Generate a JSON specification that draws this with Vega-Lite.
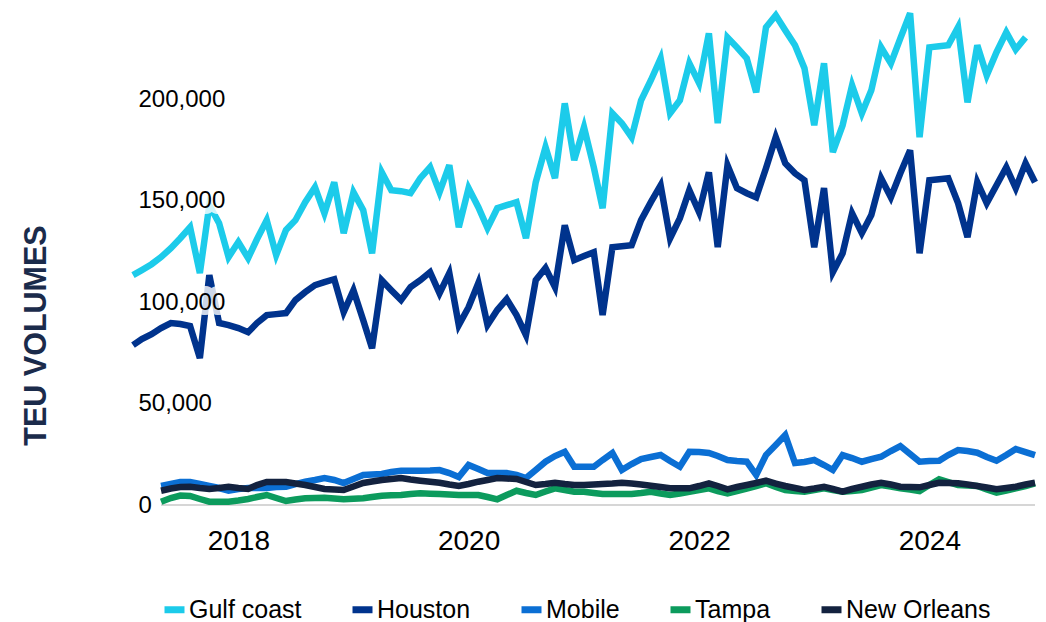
{
"$schema": "https://vega.github.io/schema/vega-lite/v6.json",
"width": 902, "height": 497,
"autosize": {"type": "none"},
"padding": {"left": 133, "top": 8, "right": 11, "bottom": 117},
"background": "white",
"config": {"view": {"stroke": null}, "font": "Liberation Sans"},
"datasets": {
"ticks": [{"teu": 0}, {"teu": 50000}, {"teu": 100000}, {"teu": 150000}, {"teu": 200000}],
"ports": [
{"month":"2017-02-01","port":"Gulf coast","teu":113300},{"month":"2017-03-01","port":"Gulf coast","teu":115800},{"month":"2017-04-01","port":"Gulf coast","teu":118700},{"month":"2017-05-01","port":"Gulf coast","teu":122200},{"month":"2017-06-01","port":"Gulf coast","teu":126600},{"month":"2017-07-01","port":"Gulf coast","teu":131500},{"month":"2017-08-01","port":"Gulf coast","teu":136900},{"month":"2017-09-01","port":"Gulf coast","teu":114300},{"month":"2017-10-01","port":"Gulf coast","teu":147800},{"month":"2017-11-01","port":"Gulf coast","teu":138900},{"month":"2017-12-01","port":"Gulf coast","teu":122200},
{"month":"2018-01-01","port":"Gulf coast","teu":129600},{"month":"2018-02-01","port":"Gulf coast","teu":121700},{"month":"2018-03-01","port":"Gulf coast","teu":131000},{"month":"2018-04-01","port":"Gulf coast","teu":140400},{"month":"2018-05-01","port":"Gulf coast","teu":123200},{"month":"2018-06-01","port":"Gulf coast","teu":135500},{"month":"2018-07-01","port":"Gulf coast","teu":140400},{"month":"2018-08-01","port":"Gulf coast","teu":149300},{"month":"2018-09-01","port":"Gulf coast","teu":156700},{"month":"2018-10-01","port":"Gulf coast","teu":143800},{"month":"2018-11-01","port":"Gulf coast","teu":159100},{"month":"2018-12-01","port":"Gulf coast","teu":134000},
{"month":"2019-01-01","port":"Gulf coast","teu":154200},{"month":"2019-02-01","port":"Gulf coast","teu":145300},{"month":"2019-03-01","port":"Gulf coast","teu":124100},{"month":"2019-04-01","port":"Gulf coast","teu":164000},{"month":"2019-05-01","port":"Gulf coast","teu":155200},{"month":"2019-06-01","port":"Gulf coast","teu":154700},{"month":"2019-07-01","port":"Gulf coast","teu":153700},{"month":"2019-08-01","port":"Gulf coast","teu":161100},{"month":"2019-09-01","port":"Gulf coast","teu":166500},{"month":"2019-10-01","port":"Gulf coast","teu":154200},{"month":"2019-11-01","port":"Gulf coast","teu":167500},{"month":"2019-12-01","port":"Gulf coast","teu":136900},
{"month":"2020-01-01","port":"Gulf coast","teu":156200},{"month":"2020-02-01","port":"Gulf coast","teu":146800},{"month":"2020-03-01","port":"Gulf coast","teu":136500},{"month":"2020-04-01","port":"Gulf coast","teu":146300},{"month":"2020-05-01","port":"Gulf coast","teu":147800},{"month":"2020-06-01","port":"Gulf coast","teu":149300},{"month":"2020-07-01","port":"Gulf coast","teu":131500},{"month":"2020-08-01","port":"Gulf coast","teu":159100},{"month":"2020-09-01","port":"Gulf coast","teu":176400},{"month":"2020-10-01","port":"Gulf coast","teu":161100},{"month":"2020-11-01","port":"Gulf coast","teu":198000},{"month":"2020-12-01","port":"Gulf coast","teu":170000},
{"month":"2021-01-01","port":"Gulf coast","teu":186200},{"month":"2021-02-01","port":"Gulf coast","teu":166500},{"month":"2021-03-01","port":"Gulf coast","teu":146300},{"month":"2021-04-01","port":"Gulf coast","teu":193100},{"month":"2021-05-01","port":"Gulf coast","teu":188200},{"month":"2021-06-01","port":"Gulf coast","teu":181300},{"month":"2021-07-01","port":"Gulf coast","teu":199500},{"month":"2021-08-01","port":"Gulf coast","teu":209400},{"month":"2021-09-01","port":"Gulf coast","teu":220200},{"month":"2021-10-01","port":"Gulf coast","teu":193100},{"month":"2021-11-01","port":"Gulf coast","teu":199500},{"month":"2021-12-01","port":"Gulf coast","teu":217700},
{"month":"2022-01-01","port":"Gulf coast","teu":207900},{"month":"2022-02-01","port":"Gulf coast","teu":232500},{"month":"2022-03-01","port":"Gulf coast","teu":188200},{"month":"2022-04-01","port":"Gulf coast","teu":230500},{"month":"2022-05-01","port":"Gulf coast","teu":225600},{"month":"2022-06-01","port":"Gulf coast","teu":220200},{"month":"2022-07-01","port":"Gulf coast","teu":203400},{"month":"2022-08-01","port":"Gulf coast","teu":235500},{"month":"2022-09-01","port":"Gulf coast","teu":241400},{"month":"2022-10-01","port":"Gulf coast","teu":234000},{"month":"2022-11-01","port":"Gulf coast","teu":226600},{"month":"2022-12-01","port":"Gulf coast","teu":215300},
{"month":"2023-01-01","port":"Gulf coast","teu":187200},{"month":"2023-02-01","port":"Gulf coast","teu":217700},{"month":"2023-03-01","port":"Gulf coast","teu":173900},{"month":"2023-04-01","port":"Gulf coast","teu":187200},{"month":"2023-05-01","port":"Gulf coast","teu":206900},{"month":"2023-06-01","port":"Gulf coast","teu":193100},{"month":"2023-07-01","port":"Gulf coast","teu":204400},{"month":"2023-08-01","port":"Gulf coast","teu":225600},{"month":"2023-09-01","port":"Gulf coast","teu":217700},{"month":"2023-10-01","port":"Gulf coast","teu":230000},{"month":"2023-11-01","port":"Gulf coast","teu":242400},{"month":"2023-12-01","port":"Gulf coast","teu":181300},
{"month":"2024-01-01","port":"Gulf coast","teu":225600},{"month":"2024-02-01","port":"Gulf coast","teu":226100},{"month":"2024-03-01","port":"Gulf coast","teu":226600},{"month":"2024-04-01","port":"Gulf coast","teu":235500},{"month":"2024-05-01","port":"Gulf coast","teu":198500},{"month":"2024-06-01","port":"Gulf coast","teu":226600},{"month":"2024-07-01","port":"Gulf coast","teu":211800},{"month":"2024-08-01","port":"Gulf coast","teu":223200},{"month":"2024-09-01","port":"Gulf coast","teu":233000},{"month":"2024-10-01","port":"Gulf coast","teu":224600},{"month":"2024-11-01","port":"Gulf coast","teu":230500},

{"month":"2017-02-01","port":"Houston","teu":78800},{"month":"2017-03-01","port":"Houston","teu":81800},{"month":"2017-04-01","port":"Houston","teu":84200},{"month":"2017-05-01","port":"Houston","teu":87200},{"month":"2017-06-01","port":"Houston","teu":89700},{"month":"2017-07-01","port":"Houston","teu":89200},{"month":"2017-08-01","port":"Houston","teu":88200},{"month":"2017-09-01","port":"Houston","teu":72400},{"month":"2017-10-01","port":"Houston","teu":113300},{"month":"2017-11-01","port":"Houston","teu":89700},{"month":"2017-12-01","port":"Houston","teu":88700},
{"month":"2018-01-01","port":"Houston","teu":87200},{"month":"2018-02-01","port":"Houston","teu":85200},{"month":"2018-03-01","port":"Houston","teu":89700},{"month":"2018-04-01","port":"Houston","teu":93600},{"month":"2018-05-01","port":"Houston","teu":94100},{"month":"2018-06-01","port":"Houston","teu":94600},{"month":"2018-07-01","port":"Houston","teu":101000},{"month":"2018-08-01","port":"Houston","teu":104900},{"month":"2018-09-01","port":"Houston","teu":108400},{"month":"2018-10-01","port":"Houston","teu":109900},{"month":"2018-11-01","port":"Houston","teu":111300},{"month":"2018-12-01","port":"Houston","teu":95100},
{"month":"2019-01-01","port":"Houston","teu":105900},{"month":"2019-02-01","port":"Houston","teu":91100},{"month":"2019-03-01","port":"Houston","teu":77300},{"month":"2019-04-01","port":"Houston","teu":110800},{"month":"2019-05-01","port":"Houston","teu":105900},{"month":"2019-06-01","port":"Houston","teu":101000},{"month":"2019-07-01","port":"Houston","teu":107400},{"month":"2019-08-01","port":"Houston","teu":110800},{"month":"2019-09-01","port":"Houston","teu":114800},{"month":"2019-10-01","port":"Houston","teu":104400},{"month":"2019-11-01","port":"Houston","teu":114300},{"month":"2019-12-01","port":"Houston","teu":88700},
{"month":"2020-01-01","port":"Houston","teu":97500},{"month":"2020-02-01","port":"Houston","teu":109400},{"month":"2020-03-01","port":"Houston","teu":88700},{"month":"2020-04-01","port":"Houston","teu":96100},{"month":"2020-05-01","port":"Houston","teu":101500},{"month":"2020-06-01","port":"Houston","teu":93600},{"month":"2020-07-01","port":"Houston","teu":83700},{"month":"2020-08-01","port":"Houston","teu":110800},{"month":"2020-09-01","port":"Houston","teu":116800},{"month":"2020-10-01","port":"Houston","teu":107400},{"month":"2020-11-01","port":"Houston","teu":137900},{"month":"2020-12-01","port":"Houston","teu":120700},
{"month":"2021-01-01","port":"Houston","teu":122700},{"month":"2021-02-01","port":"Houston","teu":124600},{"month":"2021-03-01","port":"Houston","teu":93600},{"month":"2021-04-01","port":"Houston","teu":127100},{"month":"2021-05-01","port":"Houston","teu":127600},{"month":"2021-06-01","port":"Houston","teu":128100},{"month":"2021-07-01","port":"Houston","teu":140400},{"month":"2021-08-01","port":"Houston","teu":149300},{"month":"2021-09-01","port":"Houston","teu":157600},{"month":"2021-10-01","port":"Houston","teu":131500},{"month":"2021-11-01","port":"Houston","teu":141400},{"month":"2021-12-01","port":"Houston","teu":155200},
{"month":"2022-01-01","port":"Houston","teu":144300},{"month":"2022-02-01","port":"Houston","teu":164000},{"month":"2022-03-01","port":"Houston","teu":127100},{"month":"2022-04-01","port":"Houston","teu":167500},{"month":"2022-05-01","port":"Houston","teu":156200},{"month":"2022-06-01","port":"Houston","teu":153700},{"month":"2022-07-01","port":"Houston","teu":151700},{"month":"2022-08-01","port":"Houston","teu":166000},{"month":"2022-09-01","port":"Houston","teu":181300},{"month":"2022-10-01","port":"Houston","teu":168500},{"month":"2022-11-01","port":"Houston","teu":163500},{"month":"2022-12-01","port":"Houston","teu":160100},
{"month":"2023-01-01","port":"Houston","teu":127100},{"month":"2023-02-01","port":"Houston","teu":156200},{"month":"2023-03-01","port":"Houston","teu":114800},{"month":"2023-04-01","port":"Houston","teu":124100},{"month":"2023-05-01","port":"Houston","teu":143800},{"month":"2023-06-01","port":"Houston","teu":134000},{"month":"2023-07-01","port":"Houston","teu":142900},{"month":"2023-08-01","port":"Houston","teu":161100},{"month":"2023-09-01","port":"Houston","teu":151700},{"month":"2023-10-01","port":"Houston","teu":163500},{"month":"2023-11-01","port":"Houston","teu":174900},{"month":"2023-12-01","port":"Houston","teu":124100},
{"month":"2024-01-01","port":"Houston","teu":160100},{"month":"2024-02-01","port":"Houston","teu":160600},{"month":"2024-03-01","port":"Houston","teu":161100},{"month":"2024-04-01","port":"Houston","teu":148800},{"month":"2024-05-01","port":"Houston","teu":132000},{"month":"2024-06-01","port":"Houston","teu":159100},{"month":"2024-07-01","port":"Houston","teu":148800},{"month":"2024-08-01","port":"Houston","teu":157600},{"month":"2024-09-01","port":"Houston","teu":166500},{"month":"2024-10-01","port":"Houston","teu":156200},{"month":"2024-11-01","port":"Houston","teu":168500},{"month":"2024-12-01","port":"Houston","teu":159100},

{"month":"2017-05-01","port":"Mobile","teu":9360},{"month":"2017-06-01","port":"Mobile","teu":10340},{"month":"2017-07-01","port":"Mobile","teu":11330},{"month":"2017-08-01","port":"Mobile","teu":11330},{"month":"2017-09-01","port":"Mobile","teu":10340},{"month":"2017-10-01","port":"Mobile","teu":9360},{"month":"2017-11-01","port":"Mobile","teu":8370},{"month":"2017-12-01","port":"Mobile","teu":7040},
{"month":"2018-01-01","port":"Mobile","teu":7880},{"month":"2018-02-01","port":"Mobile","teu":8370},{"month":"2018-03-01","port":"Mobile","teu":8370},{"month":"2018-04-01","port":"Mobile","teu":8370},{"month":"2018-05-01","port":"Mobile","teu":8870},{"month":"2018-06-01","port":"Mobile","teu":9010},{"month":"2018-07-01","port":"Mobile","teu":10340},{"month":"2018-08-01","port":"Mobile","teu":11480},{"month":"2018-09-01","port":"Mobile","teu":12320},{"month":"2018-10-01","port":"Mobile","teu":13300},{"month":"2018-11-01","port":"Mobile","teu":12320},{"month":"2018-12-01","port":"Mobile","teu":10840},
{"month":"2019-01-01","port":"Mobile","teu":12810},{"month":"2019-02-01","port":"Mobile","teu":14780},{"month":"2019-03-01","port":"Mobile","teu":15020},{"month":"2019-04-01","port":"Mobile","teu":15270},{"month":"2019-05-01","port":"Mobile","teu":16260},{"month":"2019-06-01","port":"Mobile","teu":16900},{"month":"2019-07-01","port":"Mobile","teu":16900},{"month":"2019-08-01","port":"Mobile","teu":16900},{"month":"2019-09-01","port":"Mobile","teu":16990},{"month":"2019-10-01","port":"Mobile","teu":17240},{"month":"2019-11-01","port":"Mobile","teu":15760},{"month":"2019-12-01","port":"Mobile","teu":13790},
{"month":"2020-01-01","port":"Mobile","teu":19700},{"month":"2020-02-01","port":"Mobile","teu":17730},{"month":"2020-03-01","port":"Mobile","teu":15760},{"month":"2020-04-01","port":"Mobile","teu":15760},{"month":"2020-05-01","port":"Mobile","teu":15760},{"month":"2020-06-01","port":"Mobile","teu":14780},{"month":"2020-07-01","port":"Mobile","teu":13300},{"month":"2020-08-01","port":"Mobile","teu":17240},{"month":"2020-09-01","port":"Mobile","teu":21330},{"month":"2020-10-01","port":"Mobile","teu":24140},{"month":"2020-11-01","port":"Mobile","teu":26260},{"month":"2020-12-01","port":"Mobile","teu":18870},
{"month":"2021-01-01","port":"Mobile","teu":18870},{"month":"2021-02-01","port":"Mobile","teu":18870},{"month":"2021-03-01","port":"Mobile","teu":22170},{"month":"2021-04-01","port":"Mobile","teu":25620},{"month":"2021-05-01","port":"Mobile","teu":17240},{"month":"2021-06-01","port":"Mobile","teu":20200},{"month":"2021-07-01","port":"Mobile","teu":22660},{"month":"2021-08-01","port":"Mobile","teu":23640},{"month":"2021-09-01","port":"Mobile","teu":24630},{"month":"2021-10-01","port":"Mobile","teu":21670},{"month":"2021-11-01","port":"Mobile","teu":18870},{"month":"2021-12-01","port":"Mobile","teu":26260},
{"month":"2022-01-01","port":"Mobile","teu":26110},{"month":"2022-02-01","port":"Mobile","teu":25620},{"month":"2022-03-01","port":"Mobile","teu":24140},{"month":"2022-04-01","port":"Mobile","teu":22170},{"month":"2022-05-01","port":"Mobile","teu":21670},{"month":"2022-06-01","port":"Mobile","teu":21330},{"month":"2022-07-01","port":"Mobile","teu":14780},{"month":"2022-08-01","port":"Mobile","teu":24630},{"month":"2022-09-01","port":"Mobile","teu":29560},{"month":"2022-10-01","port":"Mobile","teu":34480},{"month":"2022-11-01","port":"Mobile","teu":20690},{"month":"2022-12-01","port":"Mobile","teu":21180},
{"month":"2023-01-01","port":"Mobile","teu":22170},{"month":"2023-02-01","port":"Mobile","teu":19700},{"month":"2023-03-01","port":"Mobile","teu":17240},{"month":"2023-04-01","port":"Mobile","teu":24630},{"month":"2023-05-01","port":"Mobile","teu":23150},{"month":"2023-06-01","port":"Mobile","teu":21330},{"month":"2023-07-01","port":"Mobile","teu":22660},{"month":"2023-08-01","port":"Mobile","teu":23790},{"month":"2023-09-01","port":"Mobile","teu":26600},{"month":"2023-10-01","port":"Mobile","teu":29060},{"month":"2023-11-01","port":"Mobile","teu":25120},{"month":"2023-12-01","port":"Mobile","teu":21330},
{"month":"2024-01-01","port":"Mobile","teu":21670},{"month":"2024-02-01","port":"Mobile","teu":21820},{"month":"2024-03-01","port":"Mobile","teu":24630},{"month":"2024-04-01","port":"Mobile","teu":27090},{"month":"2024-05-01","port":"Mobile","teu":26600},{"month":"2024-06-01","port":"Mobile","teu":25760},{"month":"2024-07-01","port":"Mobile","teu":23640},{"month":"2024-08-01","port":"Mobile","teu":21820},{"month":"2024-09-01","port":"Mobile","teu":24630},{"month":"2024-10-01","port":"Mobile","teu":27590},{"month":"2024-11-01","port":"Mobile","teu":26110},{"month":"2024-12-01","port":"Mobile","teu":24630},

{"month":"2017-05-01","port":"Tampa","teu":1630},{"month":"2017-06-01","port":"Tampa","teu":3450},{"month":"2017-07-01","port":"Tampa","teu":4680},{"month":"2017-08-01","port":"Tampa","teu":4430},{"month":"2017-09-01","port":"Tampa","teu":2960},{"month":"2017-10-01","port":"Tampa","teu":1630},{"month":"2017-11-01","port":"Tampa","teu":1630},{"month":"2017-12-01","port":"Tampa","teu":1630},
{"month":"2018-01-01","port":"Tampa","teu":2220},{"month":"2018-02-01","port":"Tampa","teu":2960},{"month":"2018-03-01","port":"Tampa","teu":3940},{"month":"2018-04-01","port":"Tampa","teu":4930},{"month":"2018-05-01","port":"Tampa","teu":3450},{"month":"2018-06-01","port":"Tampa","teu":1970},{"month":"2018-07-01","port":"Tampa","teu":2710},{"month":"2018-08-01","port":"Tampa","teu":3300},{"month":"2018-09-01","port":"Tampa","teu":3450},{"month":"2018-10-01","port":"Tampa","teu":3600},{"month":"2018-11-01","port":"Tampa","teu":3200},{"month":"2018-12-01","port":"Tampa","teu":2810},
{"month":"2019-01-01","port":"Tampa","teu":3050},{"month":"2019-02-01","port":"Tampa","teu":3300},{"month":"2019-03-01","port":"Tampa","teu":3940},{"month":"2019-04-01","port":"Tampa","teu":4580},{"month":"2019-05-01","port":"Tampa","teu":4780},{"month":"2019-06-01","port":"Tampa","teu":4930},{"month":"2019-07-01","port":"Tampa","teu":5420},{"month":"2019-08-01","port":"Tampa","teu":5760},{"month":"2019-09-01","port":"Tampa","teu":5570},{"month":"2019-10-01","port":"Tampa","teu":5420},{"month":"2019-11-01","port":"Tampa","teu":5170},{"month":"2019-12-01","port":"Tampa","teu":4930},
{"month":"2020-01-01","port":"Tampa","teu":4930},{"month":"2020-02-01","port":"Tampa","teu":4930},{"month":"2020-03-01","port":"Tampa","teu":3940},{"month":"2020-04-01","port":"Tampa","teu":2810},{"month":"2020-05-01","port":"Tampa","teu":4930},{"month":"2020-06-01","port":"Tampa","teu":7040},{"month":"2020-07-01","port":"Tampa","teu":5910},{"month":"2020-08-01","port":"Tampa","teu":4930},{"month":"2020-09-01","port":"Tampa","teu":6650},{"month":"2020-10-01","port":"Tampa","teu":8230},{"month":"2020-11-01","port":"Tampa","teu":7390},{"month":"2020-12-01","port":"Tampa","teu":6550},
{"month":"2021-01-01","port":"Tampa","teu":6550},{"month":"2021-02-01","port":"Tampa","teu":5910},{"month":"2021-03-01","port":"Tampa","teu":5420},{"month":"2021-04-01","port":"Tampa","teu":5420},{"month":"2021-05-01","port":"Tampa","teu":5420},{"month":"2021-06-01","port":"Tampa","teu":5420},{"month":"2021-07-01","port":"Tampa","teu":5910},{"month":"2021-08-01","port":"Tampa","teu":6550},{"month":"2021-09-01","port":"Tampa","teu":5660},{"month":"2021-10-01","port":"Tampa","teu":4930},{"month":"2021-11-01","port":"Tampa","teu":5660},{"month":"2021-12-01","port":"Tampa","teu":6550},
{"month":"2022-01-01","port":"Tampa","teu":7390},{"month":"2022-02-01","port":"Tampa","teu":8230},{"month":"2022-03-01","port":"Tampa","teu":6900},{"month":"2022-04-01","port":"Tampa","teu":5760},{"month":"2022-05-01","port":"Tampa","teu":6900},{"month":"2022-06-01","port":"Tampa","teu":8130},{"month":"2022-07-01","port":"Tampa","teu":9360},{"month":"2022-08-01","port":"Tampa","teu":10690},{"month":"2022-09-01","port":"Tampa","teu":8870},{"month":"2022-10-01","port":"Tampa","teu":7390},{"month":"2022-11-01","port":"Tampa","teu":6900},{"month":"2022-12-01","port":"Tampa","teu":6550},
{"month":"2023-01-01","port":"Tampa","teu":7390},{"month":"2023-02-01","port":"Tampa","teu":8230},{"month":"2023-03-01","port":"Tampa","teu":7390},{"month":"2023-04-01","port":"Tampa","teu":6550},{"month":"2023-05-01","port":"Tampa","teu":6900},{"month":"2023-06-01","port":"Tampa","teu":7390},{"month":"2023-07-01","port":"Tampa","teu":8620},{"month":"2023-08-01","port":"Tampa","teu":9850},{"month":"2023-09-01","port":"Tampa","teu":9110},{"month":"2023-10-01","port":"Tampa","teu":8230},{"month":"2023-11-01","port":"Tampa","teu":7640},{"month":"2023-12-01","port":"Tampa","teu":6900},
{"month":"2024-01-01","port":"Tampa","teu":9850},{"month":"2024-02-01","port":"Tampa","teu":12660},{"month":"2024-03-01","port":"Tampa","teu":11330},{"month":"2024-04-01","port":"Tampa","teu":9850},{"month":"2024-05-01","port":"Tampa","teu":9610},{"month":"2024-06-01","port":"Tampa","teu":9360},{"month":"2024-07-01","port":"Tampa","teu":7640},{"month":"2024-08-01","port":"Tampa","teu":6060},{"month":"2024-09-01","port":"Tampa","teu":7140},{"month":"2024-10-01","port":"Tampa","teu":8230},{"month":"2024-11-01","port":"Tampa","teu":9360},{"month":"2024-12-01","port":"Tampa","teu":10690},

{"month":"2017-05-01","port":"New Orleans","teu":7040},{"month":"2017-06-01","port":"New Orleans","teu":8130},{"month":"2017-07-01","port":"New Orleans","teu":8870},{"month":"2017-08-01","port":"New Orleans","teu":9010},{"month":"2017-09-01","port":"New Orleans","teu":8370},{"month":"2017-10-01","port":"New Orleans","teu":7880},{"month":"2017-11-01","port":"New Orleans","teu":8370},{"month":"2017-12-01","port":"New Orleans","teu":9010},
{"month":"2018-01-01","port":"New Orleans","teu":8370},{"month":"2018-02-01","port":"New Orleans","teu":7880},{"month":"2018-03-01","port":"New Orleans","teu":9850},{"month":"2018-04-01","port":"New Orleans","teu":11330},{"month":"2018-05-01","port":"New Orleans","teu":11330},{"month":"2018-06-01","port":"New Orleans","teu":11330},{"month":"2018-07-01","port":"New Orleans","teu":10590},{"month":"2018-08-01","port":"New Orleans","teu":9850},{"month":"2018-09-01","port":"New Orleans","teu":8870},{"month":"2018-10-01","port":"New Orleans","teu":7880},{"month":"2018-11-01","port":"New Orleans","teu":7640},{"month":"2018-12-01","port":"New Orleans","teu":7390},
{"month":"2019-01-01","port":"New Orleans","teu":9110},{"month":"2019-02-01","port":"New Orleans","teu":10840},{"month":"2019-03-01","port":"New Orleans","teu":11580},{"month":"2019-04-01","port":"New Orleans","teu":12320},{"month":"2019-05-01","port":"New Orleans","teu":12810},{"month":"2019-06-01","port":"New Orleans","teu":13300},{"month":"2019-07-01","port":"New Orleans","teu":12560},{"month":"2019-08-01","port":"New Orleans","teu":11970},{"month":"2019-09-01","port":"New Orleans","teu":11480},{"month":"2019-10-01","port":"New Orleans","teu":10980},{"month":"2019-11-01","port":"New Orleans","teu":10100},{"month":"2019-12-01","port":"New Orleans","teu":9360},
{"month":"2020-01-01","port":"New Orleans","teu":10340},{"month":"2020-02-01","port":"New Orleans","teu":11480},{"month":"2020-03-01","port":"New Orleans","teu":12320},{"month":"2020-04-01","port":"New Orleans","teu":13300},{"month":"2020-05-01","port":"New Orleans","teu":13050},{"month":"2020-06-01","port":"New Orleans","teu":12810},{"month":"2020-07-01","port":"New Orleans","teu":11330},{"month":"2020-08-01","port":"New Orleans","teu":9850},{"month":"2020-09-01","port":"New Orleans","teu":10340},{"month":"2020-10-01","port":"New Orleans","teu":10980},{"month":"2020-11-01","port":"New Orleans","teu":10340},{"month":"2020-12-01","port":"New Orleans","teu":9850},
{"month":"2021-01-01","port":"New Orleans","teu":9850},{"month":"2021-02-01","port":"New Orleans","teu":10100},{"month":"2021-03-01","port":"New Orleans","teu":10340},{"month":"2021-04-01","port":"New Orleans","teu":10590},{"month":"2021-05-01","port":"New Orleans","teu":10980},{"month":"2021-06-01","port":"New Orleans","teu":10590},{"month":"2021-07-01","port":"New Orleans","teu":10100},{"month":"2021-08-01","port":"New Orleans","teu":9510},{"month":"2021-09-01","port":"New Orleans","teu":8870},{"month":"2021-10-01","port":"New Orleans","teu":8230},{"month":"2021-11-01","port":"New Orleans","teu":8230},{"month":"2021-12-01","port":"New Orleans","teu":8230},
{"month":"2022-01-01","port":"New Orleans","teu":9360},{"month":"2022-02-01","port":"New Orleans","teu":10690},{"month":"2022-03-01","port":"New Orleans","teu":9360},{"month":"2022-04-01","port":"New Orleans","teu":7730},{"month":"2022-05-01","port":"New Orleans","teu":8870},{"month":"2022-06-01","port":"New Orleans","teu":9850},{"month":"2022-07-01","port":"New Orleans","teu":10840},{"month":"2022-08-01","port":"New Orleans","teu":11970},{"month":"2022-09-01","port":"New Orleans","teu":10590},{"month":"2022-10-01","port":"New Orleans","teu":9360},{"month":"2022-11-01","port":"New Orleans","teu":8370},{"month":"2022-12-01","port":"New Orleans","teu":7390},
{"month":"2023-01-01","port":"New Orleans","teu":8130},{"month":"2023-02-01","port":"New Orleans","teu":9010},{"month":"2023-03-01","port":"New Orleans","teu":7880},{"month":"2023-04-01","port":"New Orleans","teu":6550},{"month":"2023-05-01","port":"New Orleans","teu":7880},{"month":"2023-06-01","port":"New Orleans","teu":9010},{"month":"2023-07-01","port":"New Orleans","teu":10100},{"month":"2023-08-01","port":"New Orleans","teu":10980},{"month":"2023-09-01","port":"New Orleans","teu":10100},{"month":"2023-10-01","port":"New Orleans","teu":9010},{"month":"2023-11-01","port":"New Orleans","teu":8870},{"month":"2023-12-01","port":"New Orleans","teu":8720},
{"month":"2024-01-01","port":"New Orleans","teu":9850},{"month":"2024-02-01","port":"New Orleans","teu":10980},{"month":"2024-03-01","port":"New Orleans","teu":10840},{"month":"2024-04-01","port":"New Orleans","teu":10690},{"month":"2024-05-01","port":"New Orleans","teu":10100},{"month":"2024-06-01","port":"New Orleans","teu":9360},{"month":"2024-07-01","port":"New Orleans","teu":8620},{"month":"2024-08-01","port":"New Orleans","teu":7730},{"month":"2024-09-01","port":"New Orleans","teu":8370},{"month":"2024-10-01","port":"New Orleans","teu":9010},{"month":"2024-11-01","port":"New Orleans","teu":10100},{"month":"2024-12-01","port":"New Orleans","teu":10980}
]
},
"data": {"name": "ports"},
"layer": [
{
"mark": {"type": "rule", "color": "#d6d6d6", "strokeWidth": 2},
"encoding": {
"x": {"datum": {"year": 2017, "month": 5, "date": 1, "utc": true}, "type": "temporal"},
"x2": {"datum": {"year": 2024, "month": 12, "date": 1, "utc": true}},
"y": {"datum": 0, "type": "quantitative"}
}
},
{
"mark": {"type": "line", "strokeWidth": 6.5, "strokeJoin": "miter", "strokeCap": "butt"},
"encoding": {
"x": {"field": "month", "type": "temporal",
"scale": {"type": "utc", "domain": [{"year": 2017, "month": 2, "date": 1, "utc": true}, {"year": 2024, "month": 12, "date": 1, "utc": true}]},
"axis": {"title": null, "domain": false, "ticks": false, "tickSize": 0, "grid": false,
"values": [{"year": 2018, "month": 1, "date": 1, "utc": true}, {"year": 2020, "month": 1, "date": 1, "utc": true}, {"year": 2022, "month": 1, "date": 1, "utc": true}, {"year": 2024, "month": 1, "date": 1, "utc": true}],
"labelExpr": "utcFormat(datum.value, '%Y')", "labelFontSize": 28, "labelColor": "#000000", "labelPadding": 22, "labelFlush": false, "labelBaseline": "top"}},
"y": {"field": "teu", "type": "quantitative",
"scale": {"domain": [0, 245000], "nice": false, "zero": true},
"axis": {"values": [0, 50000, 100000, 150000, 200000], "labelExpr": "format(datum.value, ',')", "domain": false, "ticks": false, "tickSize": 0, "grid": false,
"labelAlign": "left", "labelPadding": -5, "labelFontSize": 24, "labelColor": "#000000", "labelBaseline": "middle", "labelFlush": false, "zindex": 1,
"title": "TEU VOLUMES", "titleFontSize": 30.5, "titleFontWeight": "bold", "titleColor": "#1b2b4b", "titleAngle": 270, "titleX": -97, "titleY": 327, "titleAlign": "center", "titleBaseline": "middle"}},
"color": {"field": "port", "type": "nominal",
"scale": {"domain": ["Gulf coast", "Houston", "Mobile", "Tampa", "New Orleans"], "range": ["#1ccbea", "#00338d", "#0b6fd4", "#0c9b5d", "#13223f"]},
"legend": {"orient": "none", "legendX": 28, "legendY": 588, "direction": "horizontal", "title": null, "padding": 0,
"labelFontSize": 25, "labelColor": "#000000", "symbolType": "stroke", "symbolSize": 400, "symbolStrokeWidth": 7, "labelOffset": 1, "columnPadding": 36}}
}
},
{
"data": {"name": "ticks"},
"mark": {"type": "text", "align": "left", "baseline": "middle", "dx": 5, "fontSize": 24, "font": "Liberation Sans", "fill": "#ffffff", "stroke": "#ffffff", "strokeWidth": 12, "strokeJoin": "round", "opacity": 0.8},
"encoding": {
"x": {"datum": {"year": 2017, "month": 2, "date": 1, "utc": true}, "type": "temporal"},
"y": {"field": "teu", "type": "quantitative"},
"text": {"field": "teu", "type": "quantitative", "format": ","}
}
}
]
}
